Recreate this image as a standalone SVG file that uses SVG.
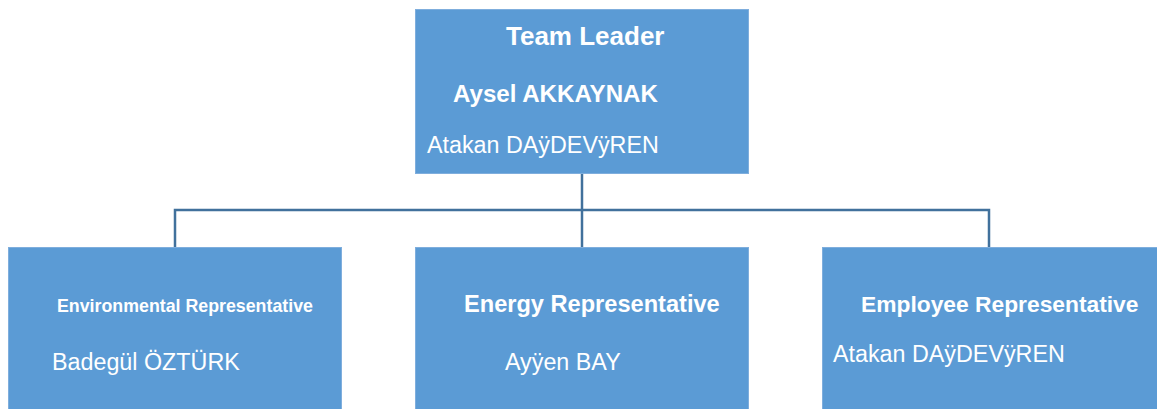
<svg xmlns="http://www.w3.org/2000/svg" width="1157" height="409" viewBox="0 0 1157 409">
  <style>
    .box { fill: #5B9BD5; stroke: #7FAEDD; stroke-width: 1; }
    .title { font-family: "Liberation Sans", Arial, sans-serif; font-weight: bold; fill: #FFFFFF; }
    .name { font-family: "Liberation Sans", Arial, sans-serif; fill: #FFFFFF; font-size: 23.3px; }
    .link { fill: none; stroke: #41719C; stroke-width: 2.5; }
  </style>
  <rect width="1157" height="409" fill="#FFFFFF"/>

  <!-- connectors -->
  <g id="connectors">
    <path class="link" d="M582 174 V247"/>
    <path class="link" d="M175 247 V210 H989 V247"/>
  </g>

  <!-- team leader -->
  <g id="team-leader">
    <rect class="box" x="415.5" y="9.5" width="333" height="164"/>
    <text class="title" x="506" y="45" font-size="26">Team Leader</text>
    <text class="title" x="453" y="102" font-size="24.1">Aysel AKKAYNAK</text>
    <text class="name" x="427" y="152.5">Atakan DAÿDEVÿREN</text>
  </g>

  <!-- environmental representative -->
  <g id="environmental-rep">
    <rect class="box" x="8.5" y="247.5" width="333" height="170"/>
    <text class="title" x="57" y="312" font-size="17.8">Environmental Representative</text>
    <text class="name" x="52" y="369.5" font-size="23.6">Badegül ÖZTÜRK</text>
  </g>

  <!-- energy representative -->
  <g id="energy-rep">
    <rect class="box" x="415.5" y="247.5" width="333" height="170"/>
    <text class="title" x="464" y="312" font-size="23.6">Energy Representative</text>
    <text class="name" x="505" y="370" font-size="23.6">Ayÿen BAY</text>
  </g>

  <!-- employee representative -->
  <g id="employee-rep">
    <rect class="box" x="822.5" y="247.5" width="340" height="170"/>
    <text class="title" x="861" y="312" font-size="22.8">Employee Representative</text>
    <text class="name" x="833" y="362">Atakan DAÿDEVÿREN</text>
  </g>
</svg>
